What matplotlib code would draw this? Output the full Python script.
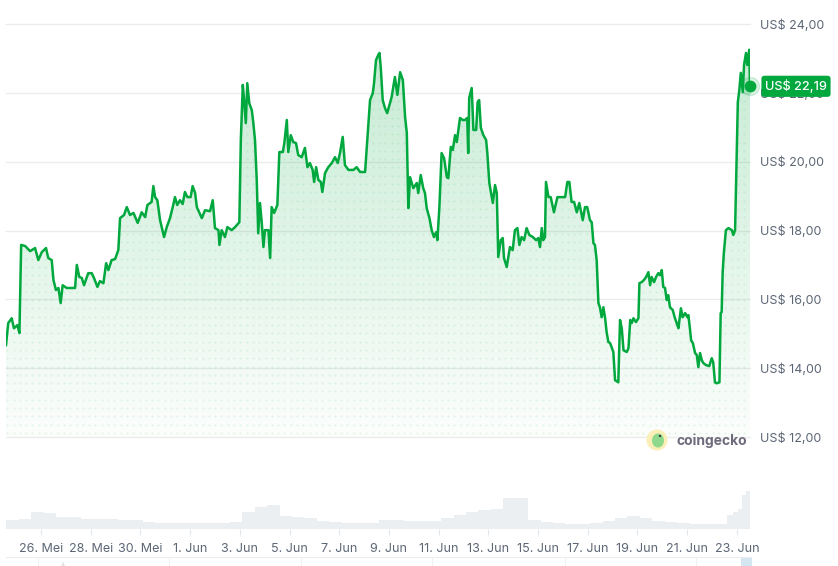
import numpy as np
import matplotlib
matplotlib.use("Agg")
import matplotlib.pyplot as plt
from matplotlib.patches import Polygon, Circle, Ellipse
from matplotlib.lines import Line2D
import matplotlib.transforms as mtransforms

plt.rcParams['font.family'] = ['Inter', 'DejaVu Sans']

# days counted from 26 Mei 00:00
days = [-1.41, -1.32, -1.18, -1.09, -0.95, -0.87, -0.80, -0.64, -0.44, -0.24, -0.11, 0.03, 0.20, 0.29, 0.43,
        0.50, 0.60, 0.70, 0.79, 0.87, 1.03, 1.37, 1.44, 1.54, 1.64, 1.73, 1.90, 2.04, 2.13, 2.27, 2.37, 2.51,
        2.62, 2.71, 2.84, 2.98, 3.11, 3.18, 3.34, 3.45, 3.58, 3.72, 3.89, 4.05, 4.19, 4.28, 4.45, 4.52, 4.59,
        4.68, 4.79, 4.95, 5.06, 5.19, 5.30, 5.39, 5.48, 5.59, 5.70, 5.79, 5.89, 6.02, 6.10, 6.20, 6.27,
        6.47, 6.60, 6.80, 6.91, 7.00, 7.14, 7.18, 7.27, 7.40, 7.50, 7.67, 7.81, 7.98, 8.04, 8.12, 8.17, 8.24,
        8.30, 8.38, 8.48, 8.54, 8.61, 8.68, 8.74, 8.81, 8.88, 8.95, 9.01, 9.15, 9.22, 9.28, 9.38, 9.51, 9.59,
        9.73, 9.79, 9.89, 9.95, 10.05, 10.15, 10.26, 10.35, 10.49, 10.62, 10.72, 10.82, 10.93, 10.99, 11.07,
        11.16, 11.26, 11.32, 11.43, 11.56, 11.70, 11.83, 11.94, 12.03, 12.14, 12.23, 12.37, 12.57, 12.70,
        12.84, 13.04, 13.11, 13.24, 13.35, 13.40, 13.48, 13.57, 13.62, 13.67, 13.75, 13.84, 13.93,
        14.11, 14.24, 14.34, 14.45, 14.56, 14.65, 14.72, 14.78, 14.85, 14.98, 15.12, 15.18, 15.28, 15.38,
        15.45, 15.52, 15.63, 15.72, 15.81, 15.90, 15.95, 16.03, 16.12, 16.22, 16.33, 16.39, 16.49, 16.57,
        16.66, 16.73, 16.86, 16.97, 17.06, 17.15, 17.19, 17.23, 17.33, 17.40, 17.51, 17.57, 17.63, 17.70,
        17.80, 17.91, 17.96, 18.04, 18.18, 18.27, 18.34, 18.40, 18.50, 18.58, 18.63, 18.74, 18.87, 18.98,
        19.07, 19.17, 19.25, 19.34, 19.44, 19.54, 19.65, 19.79, 19.92, 20.01, 20.08, 20.15, 20.21, 20.28,
        20.32, 20.42, 20.51, 20.64, 20.78, 20.95, 21.09, 21.18, 21.26, 21.35, 21.45, 21.56, 21.66,
        21.80, 21.89, 21.98, 22.09, 22.16, 22.23, 22.29, 22.36, 22.43, 22.49, 22.56, 22.63, 22.70, 22.76,
        22.83, 22.90, 22.96, 23.03, 23.10, 23.23, 23.30, 23.37, 23.44, 23.57, 23.64, 23.71, 23.77, 23.84,
        23.94, 24.04, 24.08, 24.17, 24.26, 24.35, 24.44, 24.51, 24.57, 24.67, 24.75, 24.84, 24.91, 24.98,
        25.04, 25.11, 25.18, 25.24, 25.31, 25.42, 25.51, 25.58, 25.65, 25.75, 25.82, 25.92, 26.01, 26.05,
        26.12, 26.16, 26.23, 26.32, 26.39, 26.45, 26.52, 26.59, 26.65, 26.76, 26.89, 26.99, 27.05, 27.12,
        27.19, 27.30, 27.35, 27.39, 27.43, 27.48, 27.56, 27.66, 27.80, 27.86, 27.93, 28.00, 28.04, 28.10,
        28.16, 28.24, 28.29, 28.37, 28.42, 28.50, 28.53]

price = [14.67, 15.31, 15.45, 15.16, 15.25, 15.02, 17.58, 17.55, 17.40, 17.49, 17.14, 17.37, 17.49, 17.20, 17.14,
         16.56, 16.27, 16.33, 15.89, 16.41, 16.33, 16.33, 17.00, 16.65, 16.62, 16.41, 16.76, 16.76, 16.62, 16.36,
         16.53, 16.47, 17.05, 16.85, 17.14, 17.17, 17.43, 18.36, 18.45, 18.68, 18.45, 18.51, 18.22, 18.53, 18.39,
         18.74, 18.83, 19.29, 18.97, 18.88, 18.30, 17.81, 18.10, 18.36, 18.68, 18.97, 18.74, 18.88, 18.77, 19.12,
         18.97, 18.97, 19.29, 19.09, 18.68,
         18.36, 18.59, 18.56, 18.88, 18.07, 18.01, 17.58, 18.01, 17.81, 18.10, 18.01, 18.10, 18.24, 20.63, 22.23,
         21.79, 21.12, 22.28, 21.70, 21.50, 21.15, 20.63, 19.47, 17.92, 18.80, 18.24, 17.52, 18.01, 18.01, 17.20,
         18.68, 18.51, 18.74, 20.28, 20.28, 20.54, 21.21, 20.28, 20.77, 20.57, 20.54, 20.19, 20.13, 20.40, 19.84,
         19.96, 19.76, 19.41, 19.84, 19.47, 19.41, 19.12, 19.67, 19.84, 19.96, 20.13, 19.96, 20.25, 20.72, 19.90,
         19.76, 19.76, 19.84, 19.70, 19.70, 20.43, 21.79, 21.99, 22.28, 22.95, 23.10, 23.16, 22.75, 21.79, 21.56,
         21.41,
         21.88, 22.46, 21.94, 22.60, 22.37, 21.30, 20.83, 18.65, 19.55, 19.23, 19.38, 19.09, 19.61, 19.23, 19.09,
         18.65, 18.36, 18.01, 17.81, 17.95, 17.72, 18.68, 20.25, 20.10, 19.55, 19.52, 20.43, 20.34, 20.77, 20.57,
         21.27, 21.21, 21.21, 21.27, 20.25, 21.85, 22.14, 20.92, 20.92, 21.73, 21.79, 20.98, 20.77, 20.63, 20.25,
         19.38, 18.80, 19.32, 19.09, 17.23, 17.72, 17.78, 17.20, 16.94, 17.52, 17.43, 18.01, 18.07, 17.58, 17.81,
         17.72, 18.07, 17.87, 17.81, 17.72, 17.78, 17.52, 18.07, 17.72, 17.81, 19.41, 18.97, 18.97, 18.53, 18.97,
         18.97, 18.97, 19.41, 19.41, 18.83, 18.83, 18.53, 18.80,
         18.30, 18.68, 18.68, 18.30, 18.24, 17.63, 17.58, 17.14, 15.89, 15.77, 15.48, 15.77, 15.45, 15.05, 14.76,
         14.73, 14.61, 14.47, 13.65, 13.59, 15.40, 15.16, 14.52, 14.47, 14.58, 15.40, 15.31, 15.45, 15.34, 15.45,
         16.47, 16.50, 16.56, 16.65, 16.79, 16.41, 16.65, 16.50, 16.65, 16.76, 16.70, 16.85, 16.36, 16.33, 15.98,
         16.12, 15.77, 15.69, 15.45, 15.31, 15.16, 15.74, 15.48, 15.60, 15.48, 15.54, 15.10, 14.81, 14.73, 14.44,
         14.38, 14.03, 14.44, 14.23, 14.15, 14.09, 14.06, 14.29, 14.17, 13.59, 13.56, 13.59, 15.60, 15.63, 16.79,
         17.37, 18.01, 18.07, 18.01, 17.87, 18.01, 20.43, 21.73, 22.08, 22.58, 22.02, 22.81, 23.16, 22.81, 23.25,
         22.19]

# volume (arbitrary units), bins starting at vol_t
vol_t = [-1.4, -0.9, -0.4, 0.1, 0.6, 1.1, 1.6, 2.1, 2.6, 3.1, 3.6, 4.1, 4.6, 5.1, 5.6, 6.1, 6.6, 7.1, 7.6,
         8.1, 8.6, 9.1, 9.6, 10.1, 10.6, 11.1, 11.6, 12.1, 12.6, 13.1, 13.6, 14.1, 14.6, 15.1, 15.6, 16.1,
         16.6, 17.1, 17.6, 18.1, 18.6, 19.1, 19.6, 20.1, 20.6, 21.1, 21.6, 22.1, 22.6, 23.1, 23.6, 24.1, 24.6,
         25.1, 25.6, 26.1, 26.6, 27.1, 27.6, 27.85, 28.05, 28.2, 28.35]
vol_v = [9, 10, 17, 16, 12, 12, 10, 10, 9.5, 8.7, 8.5, 6.5, 6, 5.5, 5.4, 5.4, 5.4, 5.5, 7,
         17, 22, 24, 12.5, 11.5, 11, 8, 7, 5.5, 5.4, 5.5, 8.5, 9, 8, 8, 8, 11,
         14, 17, 19, 20, 31, 31, 9, 7, 6, 5, 5, 6, 8, 11, 13, 11, 8,
         7, 5.5, 4.5, 4.5, 5, 14, 17, 20, 34, 38]

xtick_pos = [0, 2, 4, 6, 8, 10, 12, 14, 16, 18, 20, 22, 24, 26, 28]
xtick_lab = ['26. Mei', '28. Mei', '30. Mei', '1. Jun', '3. Jun', '5. Jun', '7. Jun', '9. Jun',
             '11. Jun', '13. Jun', '15. Jun', '17. Jun', '19. Jun', '21. Jun', '23. Jun']
ytick_pos = [12, 14, 16, 18, 20, 22, 24]
ytick_lab = ['US$ 12,00', 'US$ 14,00', 'US$ 16,00', 'US$ 18,00', 'US$ 20,00', 'US$ 22,00', 'US$ 24,00']
last_label = 'US$ 22,19'

green = '#00a83e'
txt_gray = '#5c6675'
W, H = 838, 566
x0, x1 = -1.41, 28.53

fig = plt.figure(figsize=(W / 100, H / 100), dpi=100)

def px_box(left, top, right, bottom):
    return [left / W, 1 - bottom / H, (right - left) / W, (bottom - top) / H]

ax = fig.add_axes(px_box(6, 24, 750, 437))
ax.set_xlim(x0, x1)
ax.set_ylim(12, 24)
for s in ax.spines.values():
    s.set_visible(False)
ax.set_xticks([])
ax.yaxis.tick_right()
ax.set_yticks(ytick_pos, ytick_lab)
ax.tick_params(axis='y', length=0, pad=7, labelsize=9, labelcolor=txt_gray)
for y in ytick_pos:
    ax.axhline(y, color='#ececec', lw=1.0, zorder=0, clip_on=False)

# area under the line with gradient and dot pattern
verts = np.column_stack([np.r_[days[0], days, days[-1]], np.r_[12, price, 12]])
area = Polygon(verts, closed=True, facecolor='none', edgecolor='none')
ax.add_patch(area)
grad = np.zeros((256, 1, 4))
rgb = matplotlib.colors.to_rgb(green)
grad[:, 0, :3] = rgb
grad[:, 0, 3] = np.linspace(0.015, 0.24, 256)
im = ax.imshow(grad, extent=[x0, x1, 12, 24], aspect='auto', origin='lower', zorder=1, interpolation='bilinear')
im.set_clip_path(area)
gx, gy = np.meshgrid(np.arange(x0 + 0.05, x1, 0.2535), np.arange(12.12, 24, 0.241))
dots = ax.scatter(gx.ravel(), gy.ravel(), s=2.2, color=green, alpha=0.10, linewidths=0, zorder=2)
dots.set_clip_path(area)

ax.plot(days, price, color=green, lw=1.8, zorder=3, solid_joinstyle='round')
ax.plot([days[-1]], [price[-1]], 'o', ms=13, color=green, alpha=0.15, clip_on=False, zorder=4)
ax.plot([days[-1]], [price[-1]], 'o', ms=7.5, color=green, clip_on=False, zorder=5)

lbl_tr = mtransforms.blended_transform_factory(ax.transAxes, ax.transData)
ax.text((765 - 6) / 744, price[-1], last_label, transform=lbl_tr, ha='left', va='center', fontsize=9.2,
        color='white', fontweight='medium', zorder=6, clip_on=False,
        bbox=dict(boxstyle='round,pad=0.28,rounding_size=0.25', fc=green, ec='none'))

# volume bars
axv = fig.add_axes(px_box(6, 470, 750, 528.7))
widths = np.diff(np.r_[vol_t, x1])
axv.bar(vol_t, vol_v, width=widths, align='edge', color='#eceff2', edgecolor='none')
axv.set_xlim(x0, x1)
axv.set_ylim(0, 58.7)
for s in axv.spines.values():
    s.set_visible(False)
axv.set_yticks([])
axv.set_xticks(xtick_pos, xtick_lab)
axv.tick_params(axis='x', length=4.5, width=0.8, color='#e3e6ea', pad=6, labelsize=9, labelcolor=txt_gray)

# navigator strip at the bottom
axn = fig.add_axes(px_box(6, 557, 752, 566))
axn.set_xlim(6, 752)
axn.set_ylim(0, 1)
axn.axis('off')
axn.axhline(1, color='#e9edf0', lw=1.5)
for xv in [38, 169, 301, 432, 565, 696]:
    axn.axvline(xv, color='#eef0f3', lw=0.8)
axn.add_patch(Polygon([[61, 0], [63, 0.5], [65, 0]], closed=True, fc='#dfe3e8', ec='none'))
axn.add_patch(Polygon([[741, 0], [752, 0], [752, 0.9], [741, 0.9]], closed=True, fc='#d5e6f3', ec='none'))

# coingecko mark
axl = fig.add_axes(px_box(640, 426, 760, 454))
axl.set_xlim(640, 760)
axl.set_ylim(454, 426)
axl.set_aspect('equal')
axl.axis('off')
axl.add_patch(Circle((657, 440), 10.5, fc='#fbeeb6', ec='none'))
axl.add_patch(Ellipse((658, 440.5), 12, 14, fc='#8fd98d', ec='none'))
axl.add_patch(Circle((660, 436), 1.2, fc='#3c3c3c', ec='none'))
axl.text(676, 440.5, 'coingecko', ha='left', va='center', fontsize=10, fontweight='bold', color='#6f6b7c')

fig.savefig('out.png', dpi=100)
